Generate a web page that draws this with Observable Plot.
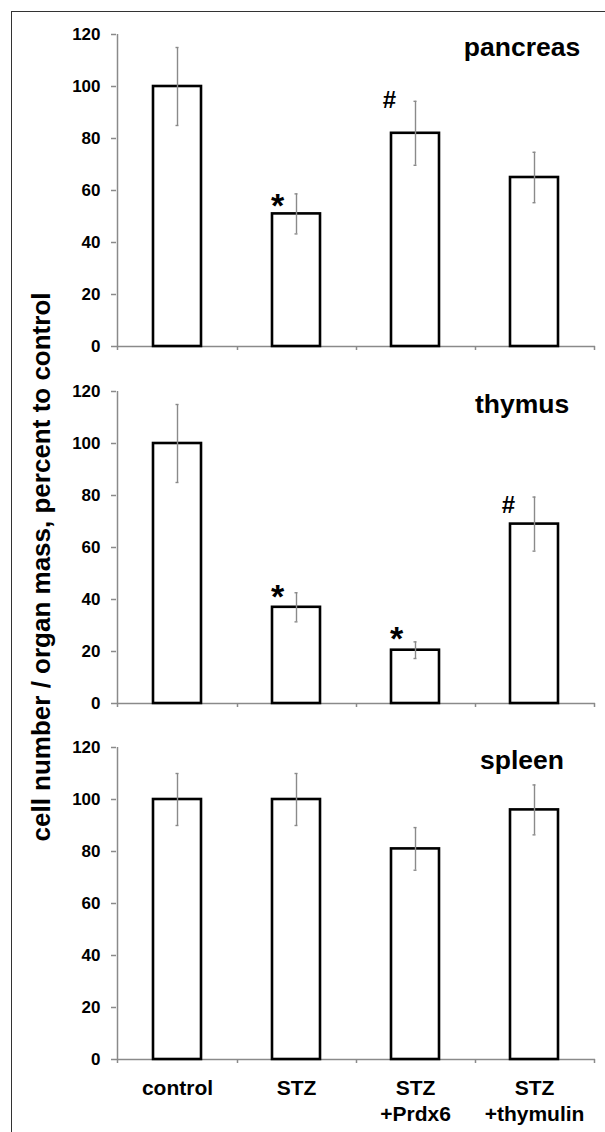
<!DOCTYPE html>
<html><head><meta charset="utf-8">
<script src="https://cdn.jsdelivr.net/npm/d3@7"></script>
<script src="https://cdn.jsdelivr.net/npm/@observablehq/plot@0.6"></script>
<style>
html,body{margin:0;padding:0;background:#fff;overflow:hidden;}
#root{position:relative;width:605px;height:1132px;font-family:"Liberation Sans",Arial,sans-serif;}
.panel{position:absolute;left:0;}
#frame{position:absolute;left:11px;top:11px;width:700px;height:1300px;border-left:1.5px solid #333;border-top:1.5px solid #333;pointer-events:none;}
#ytitle{position:absolute;left:41px;top:567px;transform:translate(-50%,-50%) rotate(-90deg);font-weight:bold;font-size:26px;white-space:nowrap;color:#000;}
</style></head><body>
<div id="root"><div id="frame"></div><div id="ytitle">cell number / organ mass, percent to control</div></div>
<script>
const categories = ["control", "STZ", "STZ\n+Prdx6", "STZ\n+thymulin"];
const organs = ["pancreas", "thymus", "spleen"];
const yTicks = [0, 20, 40, 60, 80, 100, 120];

const pancreasMean = [100, 51, 82, 65];
const pancreasErr  = [15, 7.7, 12.3, 9.7];
const pancreasSig  = [null, "*", "#", null];
const pancreasSigY = [null, 57.4, 94.7, null];

const thymusMean = [100, 37, 20.5, 69];
const thymusErr  = [15, 5.6, 3.2, 10.4];
const thymusSig  = [null, "*", "*", "#"];
const thymusSigY = [null, 44.3, 28.2, 76.3];

const spleenMean = [100, 100, 81, 96];
const spleenErr  = [10, 10, 8.2, 9.6];
const spleenSig  = [null, null, null, null];
const spleenSigY = [null, null, null, null];

const FONT = '"Liberation Sans", Arial, sans-serif';
const GRAY = "#8a8a8a";

function panel(organ, means, errs, sig, sigY, top, showX) {
  const rows = categories.map((c, i) => ({
    cat: c, mean: means[i], lo: means[i] - errs[i], hi: means[i] + errs[i], sig: sig[i], sigY: sigY[i]
  }));
  const mb = showX ? 70 : 24;
  const marks = [
    Plot.axisY({ticks: yTicks, tickSize: 5, tickPadding: 11, stroke: GRAY, strokeWidth: 1.5, fill: "black",
      fontSize: 17, fontWeight: "bold", label: null}),
    Plot.ruleX([categories[0]], {x: d => d, dx: -60, y1: 0, y2: 120, stroke: GRAY, strokeWidth: 1.5}),
    Plot.ruleY([0], {stroke: GRAY, strokeWidth: 1.5}),
    Plot.ruleX(categories, {x: d => d, dx: 60, insetTop: 312, insetBottom: -4, stroke: GRAY, strokeWidth: 1.5}),
    Plot.ruleX([categories[0]], {x: d => d, dx: -60, insetTop: 312, insetBottom: -4, stroke: GRAY, strokeWidth: 1.5}),
    Plot.barY(rows, {x: "cat", y: "mean", fill: "white", stroke: "black", strokeWidth: 2.6, inset: 0}),
    Plot.ruleX(rows, {x: "cat", y1: "lo", y2: "hi", stroke: GRAY, strokeWidth: 1.4}),
    Plot.tickY(rows, {x: "cat", y: "lo", stroke: GRAY, strokeWidth: 1.4, insetLeft: 22.5, insetRight: 22.5}),
    Plot.tickY(rows, {x: "cat", y: "hi", stroke: GRAY, strokeWidth: 1.4, insetLeft: 22.5, insetRight: 22.5}),
    Plot.text(rows.filter(d => d.sig === "*"), {x: "cat", y: "sigY", text: "sig", dx: -19, dy: 9,
      fontSize: 34, fontWeight: "bold", fill: "black"}),
    Plot.text(rows.filter(d => d.sig === "#"), {x: "cat", y: "sigY", text: "sig", dx: -26, dy: 0,
      fontSize: 24, fontWeight: "bold", fill: "black"}),
    Plot.text([organ], {frameAnchor: "top-right", text: d => d, dx: -73.5, dy: 13, textAnchor: "middle",
      lineAnchor: "middle", fontSize: 26.5, fontWeight: "bold", fill: "black"})
  ];
  if (showX) {
    marks.push(Plot.axisX({tickSize: 0, tickPadding: 17, lineAnchor: "top", lineHeight: 1.24,
      fontSize: 21, fontWeight: "bold", fill: "black", label: null}));
  }
  const svg = Plot.plot({
    width: 605, height: 24 + 312 + mb,
    marginTop: 24, marginBottom: mb, marginLeft: 116, marginRight: 10,
    style: {background: "transparent", fontFamily: FONT, overflow: "visible", maxWidth: "none"},
    x: {domain: categories, paddingInner: 0.6, paddingOuter: 0.3, axis: null},
    y: {domain: [0, 120], axis: null},
    marks
  });
  svg.classList.add("panel");
  svg.style.top = top + "px";
  document.getElementById("root").insertBefore(svg, document.getElementById("frame"));
}

panel(organs[0], pancreasMean, pancreasErr, pancreasSig, pancreasSigY, 10.3, false);
panel(organs[1], thymusMean, thymusErr, thymusSig, thymusSigY, 367.3, false);
panel(organs[2], spleenMean, spleenErr, spleenSig, spleenSigY, 722.7, true);
</script>
</body></html>
